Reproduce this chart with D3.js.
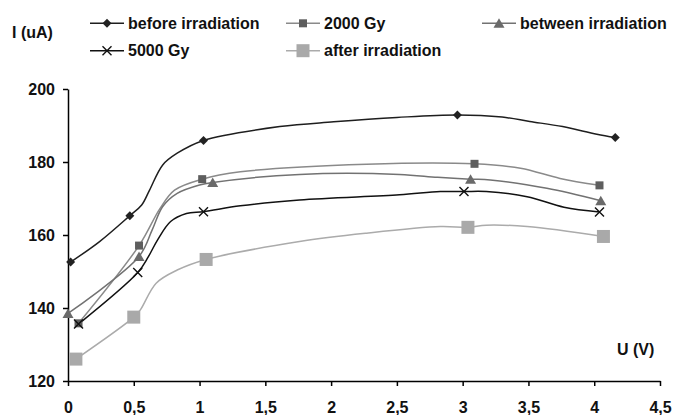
<!DOCTYPE html>
<html>
<head>
<meta charset="utf-8">
<script src="https://cdn.jsdelivr.net/npm/d3@7"></script>
<style>
  body { margin: 0; background: #fff; }
  svg { display: block; font-family: "Liberation Sans", Arial, sans-serif; font-weight: bold; }
</style>
</head>
<body>
<svg id="chart" width="674" height="415"></svg>
<script>
// Data (U in V, I in uA)
const uBefore = [0.02, 0.24, 0.47, 0.56, 0.62, 0.72, 0.83, 1.03, 1.61, 2.02, 2.5, 2.96, 3.3, 3.51, 3.76, 4.02, 4.16];
const iBefore = [152.6, 158.2, 165.3, 168.2, 172.3, 179.2, 182.4, 185.9, 189.7, 191.0, 192.2, 192.9, 192.3, 191.1, 189.7, 187.6, 186.7];
const mBefore = [0, 2, 7, 11, 16];

const u2000 = [0.08, 0.54, 0.70, 0.81, 1.02, 1.31, 2.27, 3.09, 3.44, 3.74, 4.04];
const i2000 = [135.8, 157.1, 167.3, 172.3, 175.3, 177.3, 179.4, 179.5, 178.3, 175.5, 173.6];
const m2000 = [0, 1, 4, 7, 10];

const uBetween = [0.0, 0.54, 0.64, 0.72, 0.83, 1.0, 1.10, 1.76, 2.52, 2.81, 3.06, 3.21, 3.64, 4.05];
const iBetween = [138.5, 154.1, 161.4, 167.8, 171.4, 173.7, 174.4, 176.6, 176.6, 175.8, 175.3, 175.1, 172.8, 169.4];
const mBetween = [0, 1, 6, 10, 13];

const u5000 = [0.08, 0.53, 0.61, 0.68, 0.78, 0.90, 1.03, 1.31, 1.76, 2.52, 2.83, 3.01, 3.18, 3.49, 3.77, 4.04];
const i5000 = [135.6, 149.7, 154.0, 158.6, 163.7, 165.9, 166.4, 168.0, 169.6, 171.0, 171.9, 171.9, 171.9, 170.5, 167.6, 166.3];
const m5000 = [0, 1, 6, 11, 15];

const uAfter = [0.06, 0.50, 0.55, 0.67, 0.83, 1.05, 1.76, 2.27, 2.83, 3.04, 3.18, 3.49, 4.07];
const iAfter = [126.0, 137.5, 139.5, 146.8, 150.4, 153.3, 158.2, 160.5, 162.3, 162.1, 162.7, 162.3, 159.6];
const mAfter = [0, 1, 5, 9, 12];

const xTicks = [0, 0.5, 1, 1.5, 2, 2.5, 3, 3.5, 4, 4.5];
const yTicks = [120, 140, 160, 180, 200];

const series = [
  { name: 'before irradiation', u: uBefore, i: iBefore, m: mBefore, line: '#1e1e1e', fill: '#222', shape: 'diamond', col: 0, row: 0 },
  { name: '2000 Gy', u: u2000, i: i2000, m: m2000, line: '#8a8a8a', fill: '#5e5e5e', shape: 'square', col: 1, row: 0 },
  { name: 'between irradiation', u: uBetween, i: iBetween, m: mBetween, line: '#727272', fill: '#6a6a6a', shape: 'triangle', col: 2, row: 0 },
  { name: '5000 Gy', u: u5000, i: i5000, m: m5000, line: '#111', fill: '#111', shape: 'cross', col: 0, row: 1 },
  { name: 'after irradiation', u: uAfter, i: iAfter, m: mAfter, line: '#ababab', fill: '#a9a9a9', shape: 'bigsquare', col: 1, row: 1 }
];

const svg = d3.select('#chart');

const x = d3.scaleLinear().domain([0, 4.5]).range([68, 660]);
const y = d3.scaleLinear().domain([120, 200]).range([381, 89]);

// axes
const fmt = d => String(d).replace('.', ',');

const gx = svg.append('g')
  .attr('transform', 'translate(0,' + y(120) + ')')
  .call(d3.axisBottom(x).tickValues(xTicks).tickFormat(fmt).tickSize(5).tickSizeOuter(0).tickPadding(16));

const gy = svg.append('g')
  .attr('transform', 'translate(' + x(0) + ',0)')
  .call(d3.axisLeft(y).tickValues(yTicks).tickSize(5).tickSizeOuter(0).tickPadding(8));

[gx, gy].forEach(g => {
  g.selectAll('path, line').attr('stroke', '#000').attr('stroke-width', 1.5);
  g.selectAll('text').attr('font-size', 16).attr('font-weight', 'bold').attr('fill', '#111')
    .attr('font-family', '"Liberation Sans", Arial, sans-serif');
});

svg.append('text').attr('x', 12).attr('y', 37.5).attr('font-size', 16).attr('fill', '#111').text('I (uA)');
svg.append('text').attr('x', 617).attr('y', 355).attr('font-size', 16).attr('fill', '#111').text('U (V)');

// marker drawing
function marker(g, shape, cx, cy, fill) {
  if (shape === 'diamond') {
    g.append('path').attr('d', d3.symbol(d3.symbolSquare, 40)())
      .attr('transform', 'translate(' + cx + ',' + cy + ') rotate(45)').attr('fill', fill);
  } else if (shape === 'square') {
    g.append('rect').attr('x', cx - 4).attr('y', cy - 4).attr('width', 8).attr('height', 8).attr('fill', fill);
  } else if (shape === 'bigsquare') {
    g.append('rect').attr('x', cx - 6.5).attr('y', cy - 6.5).attr('width', 13).attr('height', 13).attr('fill', fill);
  } else if (shape === 'triangle') {
    g.append('path').attr('d', 'M0,-5L5.5,4.5L-5.5,4.5Z')
      .attr('transform', 'translate(' + cx + ',' + cy + ')').attr('fill', fill);
  } else if (shape === 'cross') {
    g.append('path').attr('d', 'M-4.5,-4.5L4.5,4.5M-4.5,4.5L4.5,-4.5')
      .attr('transform', 'translate(' + cx + ',' + cy + ')').attr('stroke', fill).attr('stroke-width', 1.4).attr('fill', 'none');
  }
}

const line = d3.line()
  .x(d => x(d[0]))
  .y(d => y(d[1]))
  .curve(d3.curveCatmullRom.alpha(0.5));

series.forEach(s => {
  const pts = s.u.map((u, k) => [u, s.i[k]]);
  svg.append('path')
    .datum(pts)
    .attr('d', line)
    .attr('fill', 'none')
    .attr('stroke', s.line)
    .attr('stroke-width', 1.5);
});

series.forEach(s => {
  const g = svg.append('g');
  s.m.forEach(k => marker(g, s.shape, x(s.u[k]), y(s.i[k]), s.fill));
});

// legend
const colX = [90, 286, 482];
const rowY = [23.3, 50.7];
series.forEach(s => {
  const lx = colX[s.col], ly = rowY[s.row];
  const g = svg.append('g');
  g.append('line').attr('x1', lx).attr('x2', lx + 34).attr('y1', ly).attr('y2', ly)
    .attr('stroke', s.line).attr('stroke-width', 1.5);
  marker(g, s.shape, lx + 17, ly, s.fill);
  g.append('text').attr('x', lx + 38).attr('y', ly + 5.4).attr('font-size', 16).attr('fill', '#111').text(s.name);
});
</script>
</body>
</html>
